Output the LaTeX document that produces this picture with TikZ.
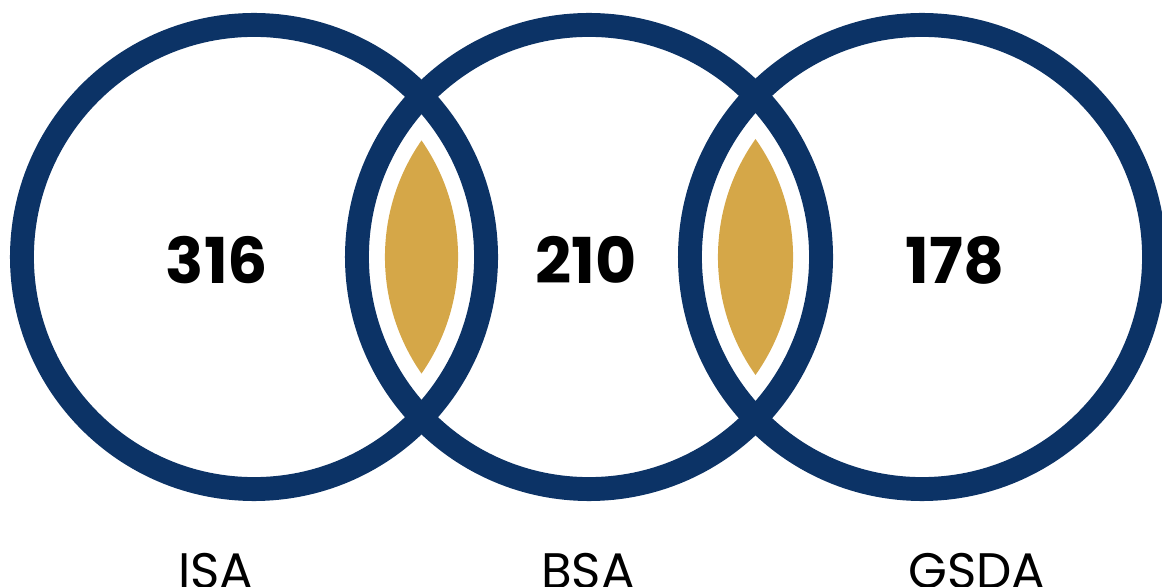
\documentclass[tikz,border=0pt]{standalone}
\usepackage{fontspec}
\setmainfont{Poppins}
\usetikzlibrary{calc}
\definecolor{ringblue}{RGB}{12,51,102}
\definecolor{lensgold}{RGB}{213,167,72}
\tikzset{
  ring/.style={draw=ringblue, line width=17pt},
  lens/.style={fill=lensgold},
  count/.style={inner sep=0pt, font=\fontsize{45}{45}\selectfont\bfseries},
  tag/.style={anchor=north, inner sep=0pt, font=\fontsize{35.5}{35.5}\selectfont},
}
\begin{document}
\begin{tikzpicture}[x=0.025cm, y=0.025cm]
  \useasboundingbox (0,0) rectangle (1162,586);
  % 1. centres of the three circles
  \coordinate (I) at (254,329);
  \coordinate (B) at (589,329);
  \coordinate (G) at (922,329);

  % 2. the three rings
  \foreach \c in {I,B,G}
    \draw[ring] (\c) circle (5.8cm);

  % 3. gold lens inside each overlap
  \foreach \p/\q in {I/B,B/G}{
    \begin{scope}
      \clip (\p) circle (5.1cm);
      \fill[lens] (\q) circle (5.1cm);
    \end{scope}
  }

  % 4. the numbers
  \node[count] (nI) at (217,326) {316};
  \node[count] (nB) at (586,326) {210};
  \node[count] (nG) at (955,326) {178};

  % 5. the names below
  \node[tag] (tI) at (216,33) {ISA};
  \node[tag] (tB) at (588,33) {BSA};
  \node[tag] (tG) at (977,33) {GSDA};
\end{tikzpicture}
\end{document}
